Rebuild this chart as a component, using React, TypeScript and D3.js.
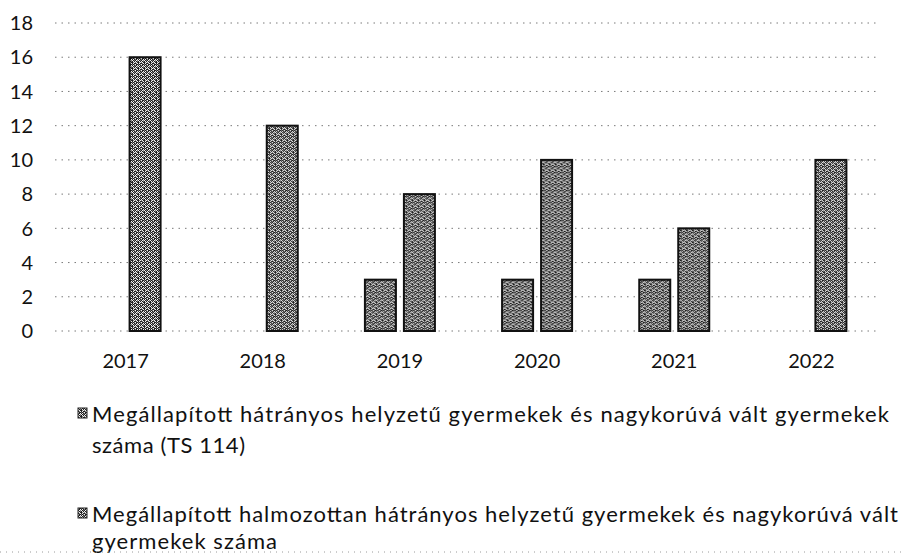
import { useEffect, useRef } from "react";
import * as d3 from "d3";

// chart data
const years = ["2017", "2018", "2019", "2020", "2021", "2022"];
const seriesNames = [
  "Megállapított hátrányos helyzetű gyermekek és nagykorúvá vált gyermekek száma (TS 114)",
  "Megállapított halmozottan hátrányos helyzetű gyermekek és nagykorúvá vált gyermekek száma",
];
const hhValues = [0, 0, 3, 3, 3, 0];
const hhhValues = [16, 12, 8, 10, 6, 10];
const yTicks = [0, 2, 4, 6, 8, 10, 12, 14, 16, 18];

// legend text as it wraps in the picture
const legendLines = [
  ["Megállapított hátrányos helyzetű gyermekek és nagykorúvá vált gyermekek", "száma (TS 114)"],
  ["Megállapított halmozottan hátrányos helyzetű gyermekek és nagykorúvá vált", "gyermekek száma"],
];

// scanned halftone look for the bars
const grain = [
  "#.+.#+",
  ".#+#.#",
  "+.##+.",
  "#+.#.#",
  ".##+#+",
  "+#.#.#",
];

const W = 904;
const H = 554;
const FONT = "Lato, 'Open Sans', sans-serif";

const App = () => {
  const ref = useRef<SVGSVGElement>(null);

  useEffect(() => {
    const svg = d3.select(ref.current);
    svg.selectAll("*").remove();

    const defs = svg.append("defs");
    const pat = defs
      .append("pattern")
      .attr("id", "scan")
      .attr("width", 6)
      .attr("height", 6)
      .attr("patternUnits", "userSpaceOnUse");
    pat.append("rect").attr("width", 6).attr("height", 6).attr("fill", "#f2f2f2");
    grain.forEach((row, r) => {
      row.split("").forEach((c, i) => {
        if (c === ".") return;
        pat
          .append("rect")
          .attr("x", i)
          .attr("y", r)
          .attr("width", 1)
          .attr("height", 1)
          .attr("fill", c === "#" ? "#1e1e1e" : "#7a7a7a");
      });
    });

    const x = d3.scaleBand().domain(years).range([57, 880]).padding(0);
    const half = 35;
    const x1 = d3
      .scaleBand()
      .domain(["hh", "hhh"])
      .range([x.bandwidth() / 2 - half, x.bandwidth() / 2 + half])
      .paddingInner(0.205)
      .paddingOuter(0);
    const y = d3.scaleLinear().domain([0, 18]).range([331, 23]);

    // grid lines
    svg
      .append("g")
      .selectAll("line")
      .data(yTicks)
      .enter()
      .append("line")
      .attr("x1", 55)
      .attr("x2", 880)
      .attr("y1", (d) => y(d))
      .attr("y2", (d) => y(d))
      .attr("stroke", "#7a7a7a")
      .attr("stroke-width", 1)
      .attr("stroke-dasharray", "1.5 5");

    // y labels
    svg
      .append("g")
      .selectAll("text")
      .data(yTicks)
      .enter()
      .append("text")
      .attr("x", 33)
      .attr("y", (d) => y(d))
      .attr("dy", "0.36em")
      .attr("text-anchor", "end")
      .attr("font-family", FONT)
      .attr("font-size", 20)
      .attr("fill", "#111")
      .text((d) => d);

    // bars
    const rows = years.map((yr, i) => ({ year: yr, hh: hhValues[i], hhh: hhhValues[i] }));
    const groups = svg
      .append("g")
      .selectAll("g")
      .data(rows)
      .enter()
      .append("g")
      .attr("transform", (d) => `translate(${x(d.year)},0)`);

    groups
      .selectAll("rect")
      .data((d) =>
        (["hh", "hhh"] as const)
          .map((k) => ({ key: k, value: d[k] }))
          .filter((v) => v.value > 0)
      )
      .enter()
      .append("rect")
      .attr("x", (d) => x1(d.key) as number)
      .attr("y", (d) => y(d.value))
      .attr("width", x1.bandwidth())
      .attr("height", (d) => y(0) - y(d.value))
      .attr("fill", "url(#scan)")
      .attr("stroke", "#111")
      .attr("stroke-width", 2);

    // x labels
    svg
      .append("g")
      .selectAll("text")
      .data(years)
      .enter()
      .append("text")
      .attr("x", (d) => (x(d) as number) + x.bandwidth() / 2)
      .attr("y", 368)
      .attr("text-anchor", "middle")
      .attr("font-family", FONT)
      .attr("font-size", 20)
      .attr("fill", "#111")
      .text((d) => d);

    // legend
    const legendTop = [422, 522];
    const lineGap = [31, 27];
    const lineWidths = [[797, 153], [806, 185]];
    legendLines.forEach((lines, i) => {
      const g = svg.append("g").attr("aria-label", seriesNames[i]);
      g.append("rect")
        .attr("x", 78)
        .attr("y", legendTop[i] - 14)
        .attr("width", 9)
        .attr("height", 10)
        .attr("fill", "url(#scan)")
        .attr("stroke", "#222")
        .attr("stroke-width", 1);
      lines.forEach((t, j) => {
        g.append("text")
          .attr("x", 92)
          .attr("y", legendTop[i] + j * lineGap[i])
          .attr("font-family", FONT)
          .attr("font-size", 22)
          .attr("fill", "#111")
          .attr("textLength", lineWidths[i][j])
          .attr("lengthAdjust", "spacing")
          .text(t);
      });
    });

    // faint scan edge at the bottom
    svg
      .append("line")
      .attr("x1", 0)
      .attr("x2", W)
      .attr("y1", 552)
      .attr("y2", 552)
      .attr("stroke", "#9a9a9a")
      .attr("stroke-dasharray", "1 5");
  }, []);

  return (
    <div style={{ position: "fixed", left: 0, top: 0, width: W, height: H, background: "#fff" }}>
      <svg ref={ref} width={W} height={H} style={{ display: "block" }} />
    </div>
  );
};

export default App;
